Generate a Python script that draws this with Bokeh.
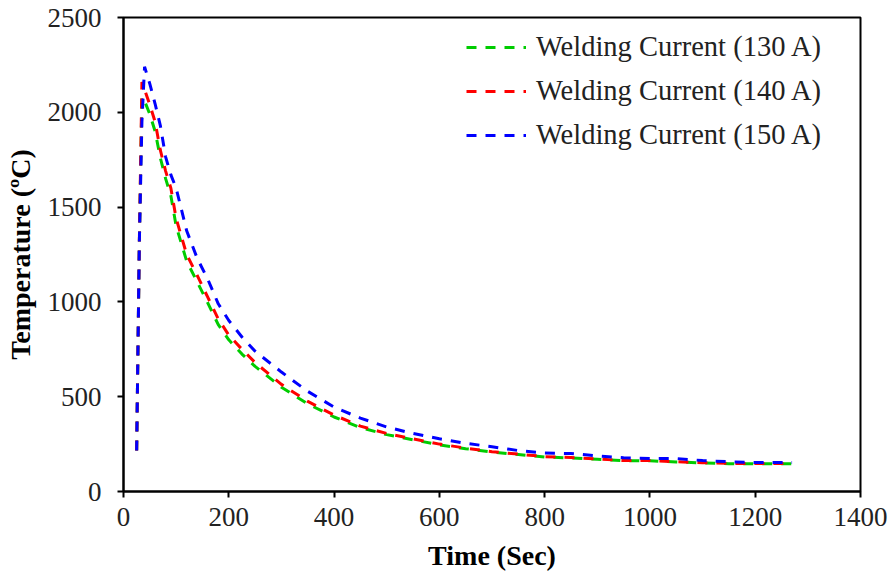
from bokeh.plotting import figure
from bokeh.models import Range1d, FixedTicker, Legend, LegendItem
from bokeh.embed import file_html
from bokeh.resources import INLINE

# Time axis (s) shared by the three thermal cycles
time_s = [25, 30, 35, 40, 50, 60, 70, 80, 90, 100, 120, 140, 160, 180, 200,
          225, 250, 300, 350, 400, 450, 500, 550, 600, 650, 700, 750, 800,
          850, 900, 950, 1000, 1050, 1100, 1150, 1200, 1270]

# Temperature (°C) for each welding current
temp_130 = [216, 1290, 2080, 2060, 1990, 1900, 1760, 1650, 1560, 1400, 1215,
            1105, 995, 880, 800, 725, 660, 550, 462, 393, 337, 300, 273, 246,
            226, 208, 195, 182, 177, 170, 162, 162, 156, 151, 147, 147, 147]
temp_140 = [216, 1300, 2160, 2120, 2040, 1950, 1800, 1690, 1600, 1440, 1250,
            1140, 1025, 910, 825, 750, 680, 565, 475, 403, 345, 306, 278, 250,
            229, 210, 197, 184, 179, 172, 163, 163, 157, 152, 148, 148, 148]
temp_150 = [216, 1300, 1950, 2240, 2150, 2045, 1930, 1765, 1670, 1600, 1375,
            1230, 1120, 990, 902, 815, 740, 630, 528, 445, 387, 340, 306, 278,
            254, 236, 216, 203, 200, 188, 178, 174, 174, 163, 157, 153, 153]

labels = ["Welding Current (130 A)", "Welding Current (140 A)",
          "Welding Current (150 A)"]
colors = ["#00cc00", "#ff0000", "#0000ff"]

x_ticks = [0, 200, 400, 600, 800, 1000, 1200, 1400]
y_ticks = [0, 500, 1000, 1500, 2000, 2500]

SERIF = "Liberation Serif"

p = figure(width=893, height=583, output_backend="svg", toolbar_location=None,
           x_range=Range1d(0, 1400), y_range=Range1d(0, 2500),
           min_border_left=123, min_border_right=33,
           min_border_top=17, min_border_bottom=92)

p.xgrid.visible = False
p.ygrid.visible = False
p.outline_line_color = "black"
p.outline_line_width = 2
p.background_fill_color = "white"
p.border_fill_color = "white"

p.xaxis.ticker = FixedTicker(ticks=x_ticks)
p.yaxis.ticker = FixedTicker(ticks=y_ticks)
for ax in (p.xaxis[0], p.yaxis[0]):
    ax.axis_line_width = 2
    ax.axis_line_color = "black"
    ax.major_tick_line_width = 2
    ax.major_tick_in = 0
    ax.major_tick_out = 6
    ax.minor_tick_line_color = None
    ax.major_label_text_font = SERIF
    ax.major_label_text_font_size = "27px"
    ax.major_label_text_color = "#222222"
    ax.axis_label_text_font = SERIF
    ax.axis_label_text_font_size = "28px"
    ax.axis_label_text_font_style = "bold"
    ax.axis_label_text_color = "black"

p.xaxis.axis_label = "Time (Sec)"
p.yaxis.axis_label = "Temperature (ºC)"
p.xaxis.major_label_standoff = 10
p.xaxis.axis_label_standoff = 11
p.yaxis.major_label_standoff = 16
p.yaxis.axis_label_standoff = 9

items = []
for temps, lab, col in zip([temp_130, temp_140, temp_150], labels, colors):
    r = p.line(time_s, temps, line_color=col, line_width=3,
               line_dash="10 9")
    items.append(LegendItem(label=lab, renderers=[r]))

# offset of the legend box's lower-left corner from the frame's lower-left
legend = Legend(items=items, location=(343, 340))
legend.border_line_color = None
legend.background_fill_alpha = 0
legend.label_text_font = SERIF
legend.label_text_font_size = "28.5px"
legend.label_text_color = "#222222"
legend.glyph_width = 60
legend.glyph_height = 28
legend.label_height = 28
legend.spacing = 12
legend.padding = 5
legend.label_standoff = 10
p.add_layout(legend)

open("out.html", "w").write(file_html(p, INLINE))
